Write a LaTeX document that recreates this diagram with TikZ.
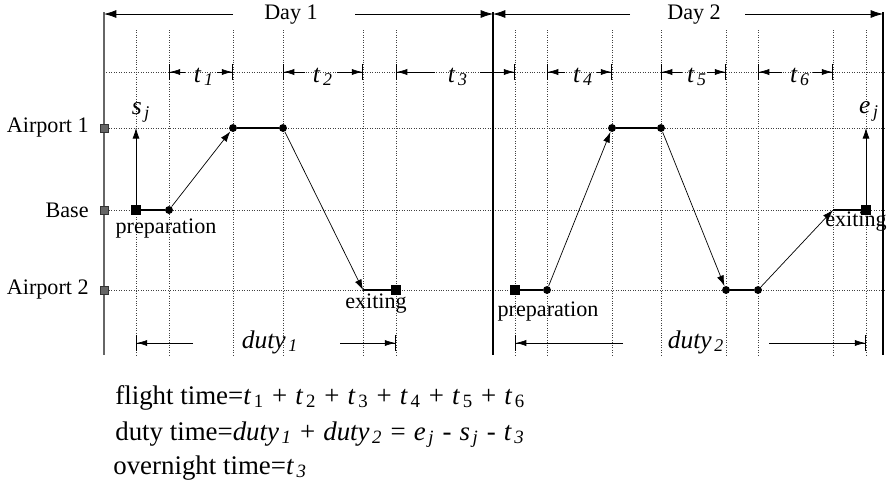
\documentclass[tikz,border=0pt]{standalone}
\usepackage{fontspec}
\setmainfont{Liberation Serif}
\usetikzlibrary{arrows.meta}
\newcommand{\isub}[2]{\textit{#1}\textsubscript{\kern1.5pt\textit{#2}}}
\newcommand{\usub}[2]{\textit{#1}\textsubscript{\kern1.5pt#2}}
\newcommand{\op}[1]{\hspace{0.3em}#1\hspace{0.3em}}
\tikzset{
    gridline/.style={densely dotted, black!75, thin},
    axis/.style={line width=1.6pt, black!60},
    dayaxis/.style={line width=0.7pt},
    evdot/.style={circle, fill, inner sep=0pt, minimum size=4.5pt},
    evsq/.style={rectangle, fill, inner sep=0pt, minimum size=5.5pt},
    axsq/.style={rectangle, fill=black!60, draw=black!80, inner sep=0pt,
                 minimum size=4.5pt},
    leg/.style={-, semithick},
    flight/.style={-{Latex[length=6pt,width=4pt]}, thin},
    dimarrow/.style={-{Latex[length=6pt,width=3.5pt]Bar[width=9pt]}, thin},
    dayarrow/.style={-{Latex[length=7pt,width=4.5pt]}, thin},
    lbl/.style={font=\fontsize{12.6}{15}\selectfont, inner sep=0pt},
    symb/.style={font=\fontsize{14.5}{17}\selectfont, inner sep=0pt},
    formula/.style={font=\fontsize{15.3}{18}\selectfont, inner sep=0pt,
                    anchor=base west},
}
\begin{document}
\begin{tikzpicture}[x=0.02cm, y=-0.02cm]
    \useasboundingbox (0,0) rectangle (888,498);

    % grid
    \draw[gridline] (104,72) -- (886,72) (104,128) -- (886,128)
        (104,210) -- (886,210) (104,290) -- (886,290);
    \draw[gridline] (136,30) -- (136,355) (169,30) -- (169,355)
        (233,30) -- (233,355) (283,30) -- (283,355)
        (363,30) -- (363,355) (396,30) -- (396,355)
        (515,30) -- (515,355) (547,30) -- (547,355)
        (612,30) -- (612,355) (661,30) -- (661,355)
        (726,30) -- (726,355) (758,30) -- (758,355)
        (833,30) -- (833,355) (866,30) -- (866,355);

    % axes
    \draw[axis] (104,12) -- (104,355);
    \draw[dayaxis] (493,12) -- (493,355);
    \draw[dayaxis] (883,12) -- (883,355);
    \node[axsq] (q1) at (104,128) {};
    \node[axsq] (q2) at (104,210) {};
    \node[axsq] (q3) at (104,290) {};
    \node[lbl, anchor=east] (ap1) at (89,128) {Airport 1};
    \node[lbl, anchor=east] (base) at (89,210) {Base};
    \node[lbl, anchor=east] (ap2) at (89,290) {Airport 2};

    % days
    \node[lbl] (day1) at (291,15) {Day 1};
    \node[lbl] (day2) at (694,15) {Day 2};
    \coordinate (d1l) at (104,14);
    \coordinate (d1r) at (493,14);
    \coordinate (d2r) at (883,14);
    \coordinate (g1) at (233,14);
    \coordinate (g2) at (355,14);
    \coordinate (g3) at (630,14);
    \coordinate (g4) at (745,14);
    \draw[dayarrow] (g1) -- (d1l);
    \draw[dayarrow] (g2) -- (d1r);
    \draw[dayarrow] (g3) -- (d1r);
    \draw[dayarrow] (g4) -- (d2r);

    % flight intervals
    \node[symb, anchor=base] (t1) at (204,82) {\isub{t}{1}};
    \node[symb, anchor=base] (t2) at (323,82) {\isub{t}{2}};
    \node[symb, anchor=base] (t3) at (458,82) {\isub{t}{3}};
    \node[symb, anchor=base] (t4) at (583,82) {\isub{t}{4}};
    \node[symb, anchor=base] (t5) at (697,82) {\isub{t}{5}};
    \node[symb, anchor=base] (t6) at (800,82) {\isub{t}{6}};
    \draw[dimarrow] (185,72) coordinate (t1l) -- (169,72) coordinate (t1a);
    \draw[dimarrow] (217,72) coordinate (t1r) -- (233,72) coordinate (t1b);
    \draw[dimarrow] (305,72) coordinate (t2l) -- (283,72) coordinate (t2a);
    \draw[dimarrow] (337,72) coordinate (t2r) -- (363,72) coordinate (t2b);
    \draw[dimarrow] (435,72) coordinate (t3l) -- (396,72) coordinate (t3a);
    \draw[dimarrow] (480,72) coordinate (t3r) -- (515,72) coordinate (t3b);
    \draw[dimarrow] (565,72) coordinate (t4l) -- (547,72) coordinate (t4a);
    \draw[dimarrow] (597,72) coordinate (t4r) -- (612,72) coordinate (t4b);
    \draw[dimarrow] (682,72) coordinate (t5l) -- (661,72) coordinate (t5a);
    \draw[dimarrow] (707,72) coordinate (t5r) -- (726,72) coordinate (t5b);
    \draw[dimarrow] (782,72) coordinate (t6l) -- (758,72) coordinate (t6a);
    \draw[dimarrow] (813,72) coordinate (t6r) -- (833,72) coordinate (t6b);

    % day 1 duty
    \node[evsq] (s0) at (136,210) {};
    \node[evdot] (s1) at (169,210) {};
    \node[evdot] (s2) at (233,128) {};
    \node[evdot] (s3) at (283,128) {};
    \coordinate (s4) at (363,290);
    \node[evsq] (s5) at (396,290) {};
    \coordinate (stop) at (136,128);
    \draw[flight] (s0) -- (stop);
    \draw[leg] (s0) -- (s1);
    \draw[flight] (s1) -- (s2);
    \draw[leg] (s2) -- (s3);
    \draw[flight] (s3) -- (s4);
    \draw[leg] (s4) -- (s5);
    \node[symb] (sj) at (141,112) {\isub{s}{j}};
    \node[lbl] (prep1) at (166,229) {preparation};
    \node[lbl] (exit1) at (376,304) {exiting};

    % day 2 duty
    \node[evsq] (e0) at (515,290) {};
    \node[evdot] (e1) at (547,290) {};
    \node[evdot] (e2) at (612,128) {};
    \node[evdot] (e3) at (661,128) {};
    \node[evdot] (e4) at (726,290) {};
    \node[evdot] (e5) at (758,290) {};
    \coordinate (e6) at (833,210);
    \node[evsq] (e7) at (866,210) {};
    \coordinate (etop) at (866,128);
    \draw[leg] (e0) -- (e1);
    \draw[flight] (e1) -- (e2);
    \draw[leg] (e2) -- (e3);
    \draw[flight] (e3) -- (e4);
    \draw[leg] (e4) -- (e5);
    \draw[flight] (e5) -- (e6);
    \draw[leg] (e6) -- (e7);
    \draw[flight] (e7) -- (etop);
    \node[symb] (ej) at (869,111) {\isub{e}{j}};
    \node[lbl] (prep2) at (548,312) {preparation};
    \node[lbl] (exit2) at (856,222) {exiting};

    % duty periods
    \node[symb, anchor=base] (duty1) at (270,348) {\isub{duty}{1}};
    \node[symb, anchor=base] (duty2) at (696,348) {\isub{duty}{2}};
    \draw[dimarrow] (193,343) coordinate (u1l) -- (136,343) coordinate (u1a);
    \draw[dimarrow] (340,343) coordinate (u1r) -- (396,343) coordinate (u1b);
    \draw[dimarrow] (623,343) coordinate (u2l) -- (515,343) coordinate (u2a);
    \draw[dimarrow] (769,343) coordinate (u2r) -- (866,343) coordinate (u2b);

    % definitions
    \node[formula] (fl) at (115,404) {flight time=\usub{t}{1}\op{+}\usub{t}{2}\op{+}\usub{t}{3}\op{+}\usub{t}{4}\op{+}\usub{t}{5}\op{+}\usub{t}{6}};
    \node[formula] (du) at (115,440) {duty time=\isub{duty}{1}\op{+}\isub{duty}{2}\op{=}\isub{e}{j}\op{-}\isub{s}{j}\op{-}\isub{t}{3}};
    \node[formula] (ov) at (113,474) {overnight time=\isub{t}{3}};
\end{tikzpicture}
\end{document}
